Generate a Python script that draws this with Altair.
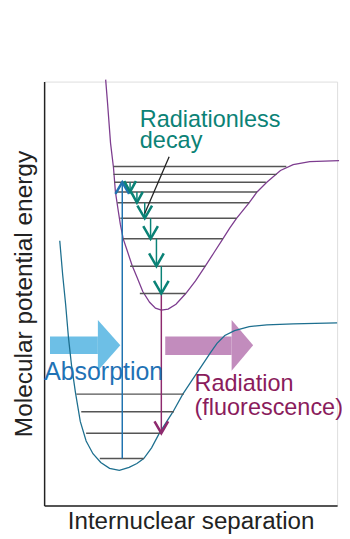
import altair as alt
import pandas as pd

# ---- data (x: internuclear separation, y: energy; arbitrary units) ----
ground_x = [16, 19, 22, 25, 28, 32, 37, 43, 50, 58, 67, 77, 87, 95, 102, 110, 118, 125, 132, 142,
            152, 162, 170, 177, 185, 195, 210, 228, 255, 300]
ground_y = [271, 236, 206, 171, 144, 116, 86, 66, 53, 44, 38, 36, 39, 43, 48, 59, 74, 85, 96, 114,
            129, 144, 156, 166, 174, 179, 183, 185, 186, 187]

excited_x = [63, 65, 68, 71, 73, 76, 78, 81, 85, 90, 95, 101, 108, 114, 120, 127, 135, 145, 155, 165,
             174, 183, 190, 197, 210, 218, 228, 242, 255, 272, 302]
excited_y = [436, 411, 371, 346, 321, 301, 288, 273, 261, 246, 234, 219, 208, 202, 200, 201, 206, 217,
             230, 245, 259, 273, 284, 294, 310, 321, 331, 343, 349, 352, 353]

upper_level_y = [347, 339, 331, 321, 310, 294, 273, 245, 217]
upper_level_x1 = [71, 71, 72, 73, 75, 78, 81, 88, 98]
upper_level_x2 = [248, 238, 227, 218, 210, 197, 183, 165, 145]

lower_level_y = [114, 96, 74, 48]
lower_level_x1 = [33, 38, 43, 57]
lower_level_x2 = [143, 133, 120, 102]

absorption = {"x": 80, "from": 48, "to": 331}
radiation = {"x": 120, "from": 217, "to": 74}

step_x = [88, 95, 103, 109, 115, 120]
step_from = [331, 321, 310, 294, 273, 245]
step_to = [321, 310, 294, 273, 245, 217]

pointer = {"x": 128, "y": 357, "x2": 103, "y2": 299}

# big block arrows: shaft (x1,x2,y1,y2), head (base x, tip x, y low, y high, tip y)
block_names = ["absorb", "emit"]
shaft_x1 = [6, 124]
shaft_x2 = [55, 192]
shaft_y1 = [155, 154]
shaft_y2 = [173, 173]
head_base = [55, 192]
head_tip = [78, 214]
head_lo = [138, 138]
head_hi = [190, 190]
head_mid = [164, 164]

labels = ["Radiationless", "decay", "Absorption", "Radiation", "(fluorescence)"]
label_x = [98, 98, 0, 154, 154]
label_y = [388, 366, 128, 117, 93]
label_kind = ["teal", "teal", "blue", "purple", "purple"]
label_size = [24, 24, 25.5, 24, 24]

# ---- styles ----
C_GROUND = "#1d6f8f"
C_EXCITED = "#7d3c8f"
C_LEVEL = "#555555"
C_ABS = "#1f72b0"
C_RAD = "#8e2a6e"
C_TEAL = "#0a8276"
C_BLUE_FILL = "#6dbfe6"
C_PINK_FILL = "#c28cbd"
FONT = "Liberation Sans"

X = alt.Scale(domain=[0, 300], nice=False, zero=False)
Y = alt.Scale(domain=[0, 434], nice=False, zero=False)

x_enc = alt.X("x:Q", scale=X, axis=alt.Axis(
    title="Internuclear separation", labels=False, ticks=False, grid=False,
    domainColor="#222222", domainWidth=1.5, titleFont=FONT, titleFontSize=24.7,
    titleFontWeight="normal", titleColor="#222222", titleBaseline="alphabetic",
    titlePadding=24))
y_enc = alt.Y("y:Q", scale=Y, axis=alt.Axis(
    title="Molecular potential energy", labels=False, ticks=False, grid=False,
    domainColor="#222222", domainWidth=1.5, titleFont=FONT, titleFontSize=25,
    titleFontWeight="normal", titleColor="#222222", titleBaseline="alphabetic",
    titlePadding=13))

# block arrows
shafts = pd.DataFrame({"name": block_names, "x": shaft_x1, "x2": shaft_x2,
                       "y": shaft_y1, "y2": shaft_y2})
heads_rows = []
for i, n in enumerate(block_names):
    heads_rows.append({"name": n, "x": head_base[i], "y": head_lo[i], "y2": head_hi[i]})
    heads_rows.append({"name": n, "x": head_tip[i], "y": head_mid[i], "y2": head_mid[i]})
heads = pd.DataFrame(heads_rows)
fill_scale = alt.Scale(domain=block_names, range=[C_BLUE_FILL, C_PINK_FILL])

shaft_layer = alt.Chart(shafts).mark_rect().encode(
    x=x_enc, x2="x2:Q", y=y_enc, y2="y2:Q",
    color=alt.Color("name:N", scale=fill_scale, legend=None))
head_layer = alt.Chart(heads).mark_area(opacity=1).encode(
    x=x_enc, y=y_enc, y2="y2:Q",
    color=alt.Color("name:N", scale=fill_scale, legend=None), detail="name:N")

# potential curves
curves = pd.DataFrame(
    [{"curve": "ground", "i": i, "x": a, "y": b} for i, (a, b) in enumerate(zip(ground_x, ground_y))] +
    [{"curve": "excited", "i": i, "x": a, "y": b} for i, (a, b) in enumerate(zip(excited_x, excited_y))])
curve_layer = alt.Chart(curves).mark_line(strokeWidth=1.3).encode(
    x=x_enc, y=y_enc, order="i:Q",
    color=alt.Color("curve:N", scale=alt.Scale(domain=["ground", "excited"], range=[C_GROUND, C_EXCITED]),
                    legend=None))

# vibrational levels
levels = pd.DataFrame({"x": upper_level_x1 + lower_level_x1, "x2": upper_level_x2 + lower_level_x2,
                       "y": upper_level_y + lower_level_y})
level_layer = alt.Chart(levels).mark_rule(color=C_LEVEL, strokeWidth=1.5).encode(
    x=x_enc, x2="x2:Q", y=y_enc)

# vertical transitions
trans_rows = [{"kind": "abs", "x": absorption["x"], "y": absorption["from"], "y2": absorption["to"]},
              {"kind": "rad", "x": radiation["x"], "y": radiation["from"], "y2": radiation["to"]}]
for k in range(len(step_x)):
    trans_rows.append({"kind": "step", "x": step_x[k], "y": step_from[k], "y2": step_to[k]})
trans = pd.DataFrame(trans_rows)
kind_scale = alt.Scale(domain=["abs", "rad", "step"], range=[C_ABS, C_RAD, C_TEAL])
trans_layer = alt.Chart(trans).mark_rule(strokeWidth=1.5).encode(
    x=x_enc, y=y_enc, y2="y2:Q", color=alt.Color("kind:N", scale=kind_scale, legend=None))

# open arrowheads
ah_rows = []
def add_head(hid, kind, x, tip, up, w, h):
    d = -h if up else h
    ah_rows.append({"hid": hid, "kind": kind, "i": 0, "x": x - w, "y": tip + d})
    ah_rows.append({"hid": hid, "kind": kind, "i": 1, "x": x, "y": tip})
    ah_rows.append({"hid": hid, "kind": kind, "i": 2, "x": x + w, "y": tip + d})

add_head("abs", "abs", absorption["x"], absorption["to"], True, 7, 12)
add_head("rad", "rad", radiation["x"], radiation["to"], False, 7, 12)
for k in range(len(step_x)):
    w, h = (6, 11) if k < 2 else (7.5, 13)
    add_head("s%d" % k, "step", step_x[k], step_to[k], False, w, h)
ah = pd.DataFrame(ah_rows)
ah_layer = alt.Chart(ah).mark_line(strokeWidth=2.6, strokeJoin="miter").encode(
    x=x_enc, y=y_enc, order="i:Q", detail="hid:N",
    color=alt.Color("kind:N", scale=kind_scale, legend=None))

# pointer line
ptr = pd.DataFrame([pointer])
ptr_layer = alt.Chart(ptr).mark_rule(color="#222222", strokeWidth=1.3).encode(
    x=x_enc, y=y_enc, x2="x2:Q", y2="y2:Q")

# labels
lab = pd.DataFrame({"text": labels, "x": label_x, "y": label_y, "kind": label_kind, "fs": label_size})
text_layer = alt.Chart(lab).mark_text(align="left", baseline="alphabetic", font=FONT).encode(
    x=x_enc, y=y_enc, text="text:N", size=alt.Size("fs:Q", scale=None, legend=None),
    color=alt.Color("kind:N", scale=alt.Scale(domain=["teal", "blue", "purple"],
                                              range=["#0b8276", "#1f72b5", "#8a1c5c"]), legend=None))

chart = alt.layer(shaft_layer, head_layer, curve_layer, level_layer, trans_layer, ah_layer,
                  ptr_layer, text_layer).resolve_scale(color="independent").properties(
    width=300, height=434,
    autosize=alt.AutoSizeParams(type="none"),
    padding={"left": 37, "top": 69, "right": 5, "bottom": 28},
).configure_view(stroke=None).configure(background="white")

chart.save("out.html", embed_options={"renderer": "svg", "actions": False})
